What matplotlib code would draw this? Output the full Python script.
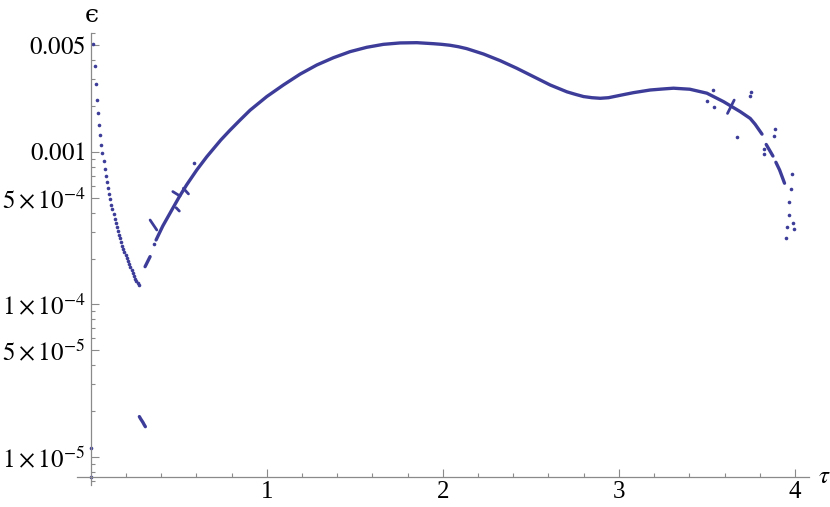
import numpy as np
import matplotlib
matplotlib.use("Agg")
import matplotlib.pyplot as plt
from matplotlib.ticker import FixedLocator, FixedFormatter

plt.rcParams['font.family'] = ['Liberation Serif', 'DejaVu Serif']
plt.rcParams['mathtext.fontset'] = 'stix'

COLOR = '#3d3d99'
AXIS_COLOR = '#8a8a8a'

# ---- data (tau, epsilon) ----
left_x = [0.0148, 0.0227, 0.0284, 0.0341, 0.0415, 0.0472, 0.0528, 0.0602, 0.0659,
          0.0727, 0.0784, 0.0858, 0.0926, 0.0983, 0.1057, 0.1114, 0.1170, 0.1227,
          0.1307, 0.1364, 0.1420, 0.1477, 0.1551, 0.1608, 0.1665, 0.1722, 0.1778,
          0.1835, 0.1909, 0.1977, 0.2045, 0.2114, 0.2182, 0.2250, 0.2318, 0.2386,
          0.2455, 0.2523, 0.2591, 0.2659, 0.2727]
left_y = [5.10e-3, 3.66e-3, 2.79e-3, 2.20e-3, 1.80e-3, 1.51e-3, 1.29e-3, 1.117e-3, 9.80e-4,
          8.69e-4, 7.79e-4, 7.00e-4, 6.32e-4, 5.78e-4, 5.31e-4, 4.90e-4, 4.51e-4, 4.21e-4,
          3.92e-4, 3.65e-4, 3.44e-4, 3.23e-4, 3.05e-4, 2.87e-4, 2.72e-4, 2.57e-4, 2.43e-4,
          2.31e-4, 2.21e-4, 2.11e-4, 2.02e-4, 1.93e-4, 1.84e-4, 1.76e-4, 1.68e-4, 1.61e-4,
          1.54e-4, 1.48e-4, 1.43e-4, 1.38e-4, 1.35e-4]

edge_x = [0.003, 0.003]
edge_y = [1.14e-5, 7.36e-6]

low_x = [0.276, 0.283, 0.290, 0.297, 0.303, 0.310]
low_y = [1.84e-5, 1.78e-5, 1.73e-5, 1.68e-5, 1.63e-5, 1.58e-5]

segA_x = [0.3085, 0.3369]
segA_y = [1.77e-4, 2.06e-4]

main_x = [0.371, 0.409, 0.466, 0.503, 0.545, 0.602, 0.659, 0.739, 0.791, 0.848,
          0.905, 1.000, 1.094, 1.189, 1.284, 1.378, 1.473, 1.568, 1.662, 1.757,
          1.852, 1.947, 1.994, 2.041, 2.089, 2.136, 2.231, 2.326, 2.420, 2.515,
          2.610, 2.705, 2.752, 2.799, 2.847, 2.894, 2.941, 2.989, 3.036, 3.083,
          3.178, 3.250, 3.310, 3.403, 3.500, 3.594, 3.689, 3.746, 3.774, 3.813]
main_y = [2.65e-4, 3.27e-4, 4.28e-4, 5.09e-4, 6.10e-4, 7.62e-4, 9.31e-4, 1.20e-3, 1.39e-3, 1.62e-3,
          1.88e-3, 2.31e-3, 2.75e-3, 3.24e-3, 3.72e-3, 4.15e-3, 4.55e-3, 4.86e-3, 5.08e-3, 5.19e-3,
          5.21e-3, 5.13e-3, 5.08e-3, 5.01e-3, 4.90e-3, 4.76e-3, 4.39e-3, 3.97e-3, 3.54e-3, 3.12e-3,
          2.75e-3, 2.48e-3, 2.39e-3, 2.31e-3, 2.27e-3, 2.25e-3, 2.27e-3, 2.33e-3, 2.39e-3, 2.45e-3,
          2.55e-3, 2.59e-3, 2.62e-3, 2.58e-3, 2.43e-3, 2.14e-3, 1.84e-3, 1.66e-3, 1.52e-3, 1.31e-3]

tail1_x = [3.837, 3.875]
tail1_y = [1.12e-3, 9.41e-4]
tail2_x = [3.892, 3.913, 3.941]
tail2_y = [8.56e-4, 7.62e-4, 6.24e-4]

cross_x = [[0.337, 0.375], [0.485, 0.503], [0.466, 0.507], [0.526, 0.555], [3.617, 3.655]]
cross_y = [[3.58e-4, 3.08e-4], [4.31e-4, 4.10e-4], [5.50e-4, 5.14e-4], [5.78e-4, 5.31e-4],
           [1.79e-3, 2.19e-3]]

scatter_x = [0.3614, 0.589, 3.537, 3.503, 3.543, 3.670, 3.750, 3.742, 3.886, 3.881,
             3.826, 3.822, 3.983, 3.977, 3.969, 3.964, 3.989, 3.996, 3.956, 3.949]
scatter_y = [2.49e-4, 8.51e-4, 2.55e-3, 2.16e-3, 1.96e-3, 1.25e-3, 2.48e-3, 2.34e-3, 1.42e-3, 1.28e-3,
             1.05e-3, 9.66e-4, 7.21e-4, 5.74e-4, 4.68e-4, 3.86e-4, 3.41e-4, 3.11e-4, 3.24e-4, 2.74e-4]

y_major = [1e-5, 5e-5, 1e-4, 5e-4, 1e-3, 5e-3]
y_labels = [r'$1\times10^{-5}$', r'$5\times10^{-5}$', r'$1\times10^{-4}$',
            r'$5\times10^{-4}$', r'$0.001$', r'$0.005$']
x_major = [1, 2, 3, 4]
x_labels = ['1', '2', '3', '4']

# ---- figure ----
W, H = 830, 507
fig = plt.figure(figsize=(W / 100, H / 100), dpi=100)
ax = fig.add_axes([76.7 / W, (H - 485) / H, (809 - 76.7) / W, (485 - 33) / H])
ax.set_yscale('log')
ax.set_xlim(-0.08, 4.08)
ax.set_ylim(6.55e-6, 6.03e-3)

dot_kw = dict(linestyle='none', marker='o', markersize=2.6, markeredgewidth=0,
              color=COLOR, clip_on=False)
line_kw = dict(color=COLOR, linewidth=2.4, solid_capstyle='round', solid_joinstyle='round')

ax.plot(left_x, left_y, **dot_kw)
ax.plot(edge_x, edge_y, **dot_kw)
ax.plot(low_x, low_y, **line_kw)
ax.plot(segA_x, segA_y, **line_kw)
ax.plot(main_x, main_y, **line_kw)
ax.plot(tail1_x, tail1_y, **line_kw)
ax.plot(tail2_x, tail2_y, **line_kw)
for cx, cy in zip(cross_x, cross_y):
    ax.plot(cx, cy, color=COLOR, linewidth=2.0, solid_capstyle='round')
ax.plot(scatter_x, scatter_y, **dot_kw)

# ---- axes styling (Mathematica-like) ----
for s in ['top', 'right']:
    ax.spines[s].set_visible(False)
ax.spines['left'].set_position(('data', 0))
ax.spines['bottom'].set_position(('data', 7.36e-6))
for s in ['left', 'bottom']:
    ax.spines[s].set_color(AXIS_COLOR)
    ax.spines[s].set_linewidth(0.9)

ax.xaxis.set_major_locator(FixedLocator(x_major))
ax.xaxis.set_major_formatter(FixedFormatter(x_labels))
x_minor = [v for v in np.arange(0.2, 4.01, 0.2) if abs(v - round(v)) > 1e-6]
ax.xaxis.set_minor_locator(FixedLocator(x_minor))

ax.yaxis.set_major_locator(FixedLocator(y_major))
ax.yaxis.set_major_formatter(FixedFormatter(y_labels))
y_minor = []
for e in range(-6, -2):
    for k in range(1, 10):
        v = k * 10.0 ** e
        if 6.55e-6 <= v <= 6.03e-3 and all(abs(v - m) / m > 1e-6 for m in y_major):
            y_minor.append(v)
ax.yaxis.set_minor_locator(FixedLocator(y_minor))
ax.yaxis.set_minor_formatter(FixedFormatter([''] * len(y_minor)))

ax.tick_params(axis='both', which='both', direction='in', color=AXIS_COLOR,
               width=0.8, labelsize=18)
ax.tick_params(axis='both', which='major', length=5.5)
ax.tick_params(axis='both', which='minor', length=3)
ax.tick_params(axis='x', which='major', pad=3)
ax.tick_params(axis='y', which='major', pad=4)

fig.text(91.5 / W, 1 - 15.5 / H, '\u03f5', ha='center', va='center', fontsize=18,
         family=['DejaVu Serif'])
fig.text(824 / W, 1 - 477 / H, r'$\tau$', ha='center', va='center', fontsize=18)

fig.savefig('out.png', dpi=100)
